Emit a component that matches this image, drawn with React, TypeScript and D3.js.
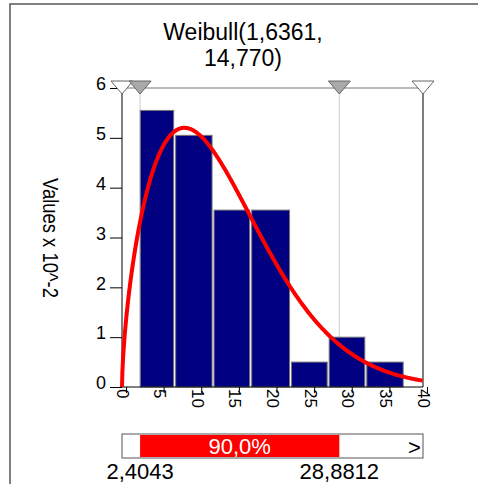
import { useEffect, useRef } from 'react';
import * as d3 from 'd3';

const binEdges = [2.3, 7.0, 12.1, 17.1, 22.4, 27.4, 32.4, 37.5];
const binHeights = [5.55, 5.05, 3.55, 3.55, 0.5, 1.0, 0.5];
const xTicks = [0, 5, 10, 15, 20, 25, 30, 35, 40];
const yTicks = [0, 1, 2, 3, 4, 5, 6];
const shape = 1.6361;
const scale = 14.77;
const lowCut = 2.4043;
const highCut = 28.8812;

export default function App() {
  const ref = useRef<SVGSVGElement>(null);

  useEffect(() => {
    const svg = d3.select(ref.current);
    svg.selectAll('*').remove();
    const font = 'Liberation Sans, Arial, sans-serif';
    const x = d3.scaleLinear().domain([0, 40]).range([122, 423]);
    const y = d3.scaleLinear().domain([0, 6]).range([387, 88]);

    svg.append('path').attr('d', 'M10,484 V4 H478').attr('fill', 'none').attr('stroke', '#555').attr('stroke-width', 1.5);

    const title = svg.append('text').attr('text-anchor', 'middle').attr('font-family', font).attr('font-size', 23);
    title.append('tspan').attr('x', 243).attr('y', 40).text('Weibull(1,6361,');
    title.append('tspan').attr('x', 243).attr('y', 66).text('14,770)');

    // frame
    svg.append('line').attr('x1', x(0)).attr('x2', x(40)).attr('y1', y(6)).attr('y2', y(6)).attr('stroke', '#777');
    svg.append('line').attr('x1', x(40)).attr('x2', x(40)).attr('y1', y(6)).attr('y2', y(0)).attr('stroke', '#000');
    [lowCut, highCut].forEach(v => {
      svg.append('line').attr('x1', x(v)).attr('x2', x(v)).attr('y1', y(6)).attr('y2', y(0)).attr('stroke', '#ccc');
    });

    svg.selectAll('.bar').data(binHeights).enter().append('rect')
      .attr('x', (_, i) => x(binEdges[i]) + 1).attr('width', (_, i) => x(binEdges[i + 1]) - x(binEdges[i]) - 2)
      .attr('y', d => y(d)).attr('height', d => y(0) - y(d))
      .attr('fill', '#000080').attr('stroke', '#777').attr('stroke-width', 1);

    // axes
    const ya = svg.append('g').attr('transform', `translate(${x(0)},0)`)
      .call(d3.axisLeft(y).tickValues(yTicks).tickSize(12).tickFormat(d3.format('d')));
    ya.select('.domain').remove();
    ya.selectAll('line').attr('stroke', '#000').attr('x1', 0).attr('x2', -12);
    ya.append('line').attr('y1', y(6)).attr('y2', y(0)).attr('stroke', '#000');
    ya.selectAll('text').attr('font-family', font).attr('font-size', 18).attr('fill', '#000').attr('x', -16).attr('dy', '0.1em');

    const xa = svg.append('g').attr('transform', `translate(0,${y(0)})`)
      .call(d3.axisBottom(x).tickValues(xTicks).tickSize(6).tickFormat(d3.format('d')));
    xa.select('.domain').attr('stroke', '#000').attr('d', `M${x(0)},0H${x(40)}`);
    xa.selectAll('line').attr('stroke', '#000').attr('transform', 'translate(4,0)');
    xa.selectAll('text').attr('font-family', font).attr('font-size', 17).attr('fill', '#000')
      .attr('transform', 'rotate(90)').attr('text-anchor', 'start').attr('x', 2).attr('y', 0).attr('dy', '0.35em');

    svg.append('text').attr('transform', 'translate(43,238) rotate(90)').attr('text-anchor', 'middle')
      .attr('font-family', font).attr('font-size', 22)
      .attr('textLength', 120).attr('lengthAdjust', 'spacingAndGlyphs').text('Values x 10^-2');

    // weibull density, in units of 10^-2
    const pts = d3.range(0.05, 40.01, 0.1).map(t => [t, 100 * (shape / scale) * Math.pow(t / scale, shape - 1) * Math.exp(-Math.pow(t / scale, shape))]);
    pts.unshift([0, 0]);
    svg.append('path').attr('d', d3.line().x(d => x(d[0])).y(d => y(Math.min(d[1], 6)))(pts as [number, number][]))
      .attr('fill', 'none').attr('stroke', '#f00').attr('stroke-width', 4);

    // markers
    const tri = (v: number, fill: string) => {
      const cx = x(v), cy = y(6);
      svg.append('path').attr('d', `M${cx - 11},${cy - 7}H${cx + 11}L${cx},${cy + 6}Z`).attr('fill', fill).attr('stroke', '#666');
    };
    tri(0, '#fff'); tri(lowCut, '#aaa'); tri(highCut, '#aaa'); tri(40, '#fff');

    // bottom percentile bar
    svg.append('rect').attr('x', x(0)).attr('y', 434).attr('width', x(40) - x(0)).attr('height', 24).attr('fill', '#fff').attr('stroke', '#555');
    svg.append('rect').attr('x', x(lowCut)).attr('y', 435).attr('width', x(highCut) - x(lowCut)).attr('height', 22).attr('fill', '#f00');
    svg.append('text').attr('x', (x(lowCut) + x(highCut)) / 2).attr('y', 454).attr('text-anchor', 'middle')
      .attr('font-family', font).attr('font-size', 22).attr('fill', '#fff').text('90,0%');
    svg.append('text').attr('x', 408).attr('y', 455).attr('font-family', font).attr('font-size', 22).text('>');
    svg.append('text').attr('x', x(lowCut)).attr('y', 479).attr('text-anchor', 'middle').attr('font-family', font).attr('font-size', 22).text('2,4043');
    svg.append('text').attr('x', x(highCut)).attr('y', 479).attr('text-anchor', 'middle').attr('font-family', font).attr('font-size', 22).text('28,8812');
  }, []);

  return <svg ref={ref} width={478} height={484} style={{ position: 'absolute', left: 0, top: 0, background: '#fff' }} />;
}
